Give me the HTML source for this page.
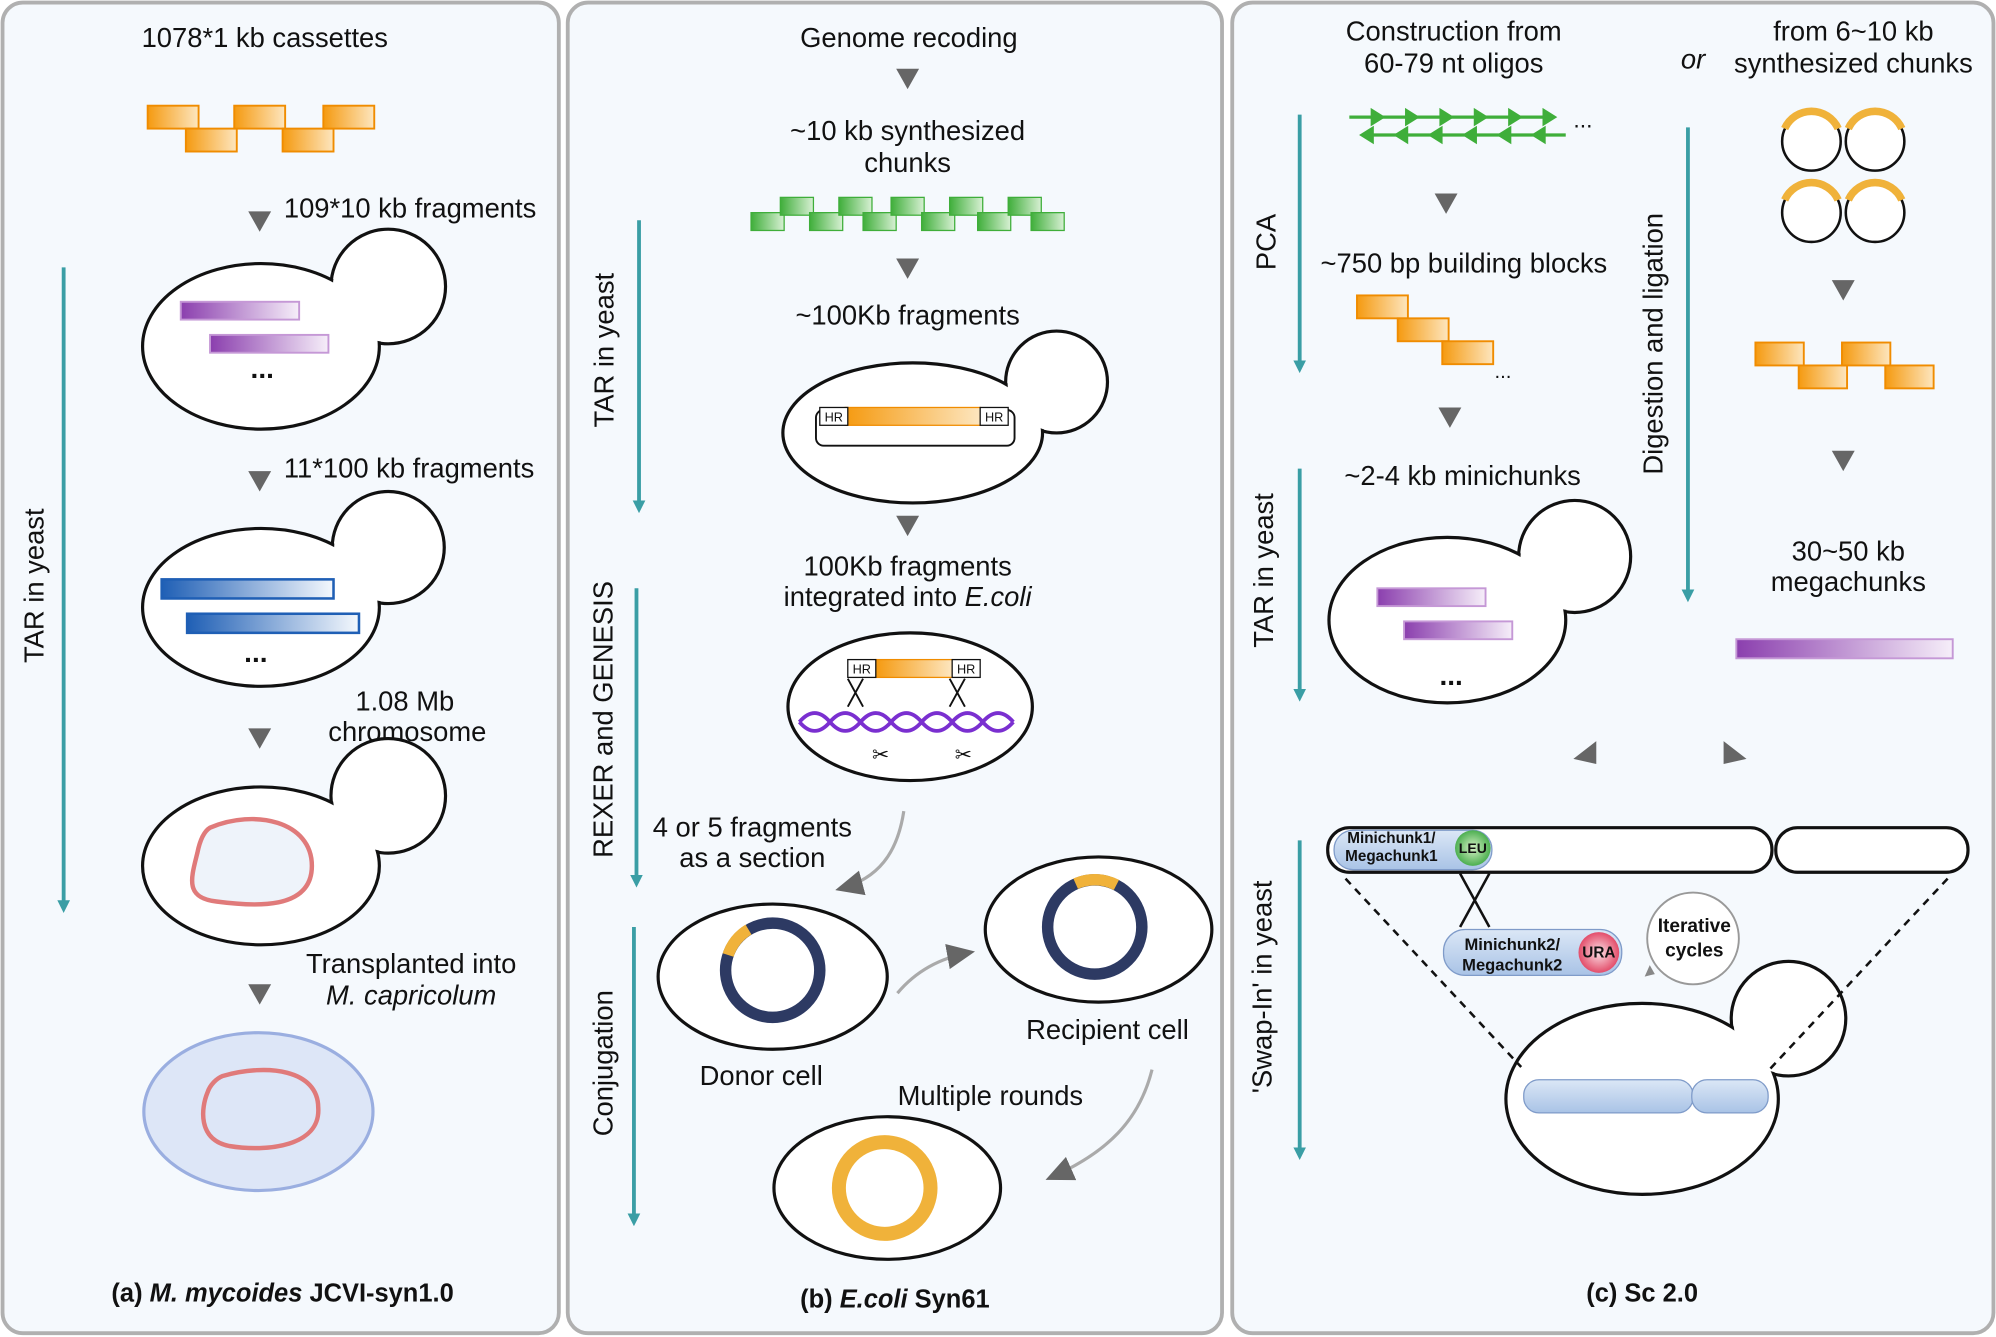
<!DOCTYPE html>
<html><head><meta charset="utf-8"><style>
html,body{margin:0;padding:0;background:#fff}
svg{display:block}
text{font-family:"Liberation Sans",Arial,sans-serif;fill:#111}
</style></head><body>
<svg width="1996" height="1337" viewBox="0 0 1568 1050" preserveAspectRatio="none" xmlns="http://www.w3.org/2000/svg">
<defs>
<linearGradient id="or" x1="0" x2="1"><stop offset="0" stop-color="#f59a10"/><stop offset="1" stop-color="#fde6bf"/></linearGradient>
<linearGradient id="pu" x1="0" x2="1"><stop offset="0" stop-color="#8b3fae"/><stop offset="1" stop-color="#f6eef9"/></linearGradient>
<linearGradient id="bl" x1="0" x2="1"><stop offset="0" stop-color="#1f5fb5"/><stop offset="1" stop-color="#f4f8fd"/></linearGradient>
<linearGradient id="gr" x1="0" x2="1"><stop offset="0" stop-color="#3fae3a"/><stop offset="1" stop-color="#d8f0d4"/></linearGradient>
<linearGradient id="cb" x1="0" y1="0" x2="0" y2="1"><stop offset="0" stop-color="#dbe7f6"/><stop offset="1" stop-color="#a9c3e6"/></linearGradient>
<radialGradient id="leu"><stop offset="0" stop-color="#d6f0c6"/><stop offset="1" stop-color="#4caf50"/></radialGradient>
<radialGradient id="ura"><stop offset="0" stop-color="#fbe0e6"/><stop offset="1" stop-color="#e34d6a"/></radialGradient>
<marker id="ta" markerWidth="10" markerHeight="10" refX="5" refY="5" orient="auto" markerUnits="userSpaceOnUse"><path d="M0,0 L10,5 L0,10 z" fill="#3a9ea5"/></marker>
<marker id="ga" markerWidth="22" markerHeight="20" refX="18" refY="10" orient="auto" markerUnits="userSpaceOnUse"><path d="M0,0 L22,10 L0,20 z" fill="#666"/></marker>
</defs>
<g stroke="#b0b0b0" stroke-width="3" fill="#f5f9fd">
<rect x="2" y="2" width="437" height="1045" rx="16"/>
<rect x="446" y="2" width="514" height="1045" rx="16"/>
<rect x="968" y="2" width="598" height="1045" rx="16"/>
</g>
<!-- panel a -->
<g font-size="21.5">
<text x="208" y="37" text-anchor="middle">1078*1 kb  cassettes</text>
<text x="223" y="171">109*10 kb fragments</text>
<text x="223" y="375">11*100 kb fragments</text>
<text x="318" y="558" text-anchor="middle">1.08 Mb</text>
<text x="320" y="582" text-anchor="middle">chromosome</text>
<text x="323" y="764" text-anchor="middle">Transplanted into</text>
<text x="323" y="789" text-anchor="middle" font-style="italic">M. capricolum</text>
<text x="34" y="460" text-anchor="middle" transform="rotate(-90 34 460)">TAR in yeast</text>
<text x="222" y="1022" text-anchor="middle" font-weight="bold" font-size="20">(a) <tspan font-style="italic">M. mycoides</tspan> JCVI-syn1.0</text>
</g>
<g fill="url(#or)" stroke="#f08c00" stroke-width="1.5">
<rect x="116" y="83" width="40" height="18"/><rect x="146" y="101" width="40" height="18"/><rect x="184" y="83" width="40" height="18"/><rect x="222" y="101" width="40" height="18"/><rect x="254" y="83" width="40" height="18"/>
</g>
<g fill="#666">
<path d="M195,166 h18 l-9,16z"/><path d="M195,370 h18 l-9,16z"/><path d="M195,572 h18 l-9,16z"/><path d="M195,773 h18 l-9,16z"/>
</g>
<line x1="50" y1="210" x2="50" y2="712" stroke="#3a9ea5" stroke-width="3" marker-end="url(#ta)"/>
<g stroke="#111" stroke-width="2.5" fill="#fff">
<circle cx="305" cy="225" r="45"/><ellipse cx="205" cy="272" rx="93" ry="65"/>
<circle cx="305" cy="430" r="44"/><ellipse cx="205" cy="477" rx="93" ry="62"/>
<circle cx="305" cy="625" r="45"/><ellipse cx="205" cy="680" rx="93" ry="62"/>
</g>
<g fill="#fff">
<circle cx="305" cy="225" r="43.5"/><circle cx="305" cy="430" r="42.5"/><circle cx="305" cy="625" r="43.5"/>
</g>
<ellipse cx="203" cy="873" rx="90" ry="62" fill="#dde6f7" stroke="#9aaee0" stroke-width="2.5"/>
<rect x="142" y="237" width="93" height="14" fill="url(#pu)" stroke="#c598d6" stroke-width="1.5"/>
<rect x="165" y="263" width="93" height="14" fill="url(#pu)" stroke="#c598d6" stroke-width="1.5"/>
<text x="206" y="297" text-anchor="middle" font-size="22" font-weight="bold">...</text>
<rect x="127" y="455" width="135" height="15" fill="url(#bl)" stroke="#1f5fb5" stroke-width="2"/>
<rect x="147" y="482" width="135" height="15" fill="url(#bl)" stroke="#1f5fb5" stroke-width="2"/>
<text x="201" y="520" text-anchor="middle" font-size="22" font-weight="bold">...</text>
<path d="M165,650 C200,635 245,645 245,680 C245,715 200,712 170,708 C145,705 150,690 155,670 C157,660 160,653 165,650z" fill="#eef3fa" stroke="#e07a7a" stroke-width="3.5"/>
<path d="M175,845 C210,835 250,840 250,870 C252,900 210,905 180,900 C155,895 158,870 163,858 C165,852 170,847 175,845z" fill="none" stroke="#e07a7a" stroke-width="3.5"/>
<!-- panel b -->
<g font-size="21.5">
<text x="714" y="37" text-anchor="middle">Genome recoding</text>
<text x="713" y="110" text-anchor="middle">~10 kb synthesized</text>
<text x="713" y="135" text-anchor="middle">chunks</text>
<text x="713" y="255" text-anchor="middle">~100Kb fragments</text>
<text x="713" y="452" text-anchor="middle">100Kb fragments</text>
<text x="713" y="476" text-anchor="middle">integrated into  <tspan font-style="italic">E.coli</tspan></text>
<text x="591" y="657" text-anchor="middle">4 or 5 fragments</text>
<text x="591" y="681" text-anchor="middle">as a section</text>
<text x="598" y="852" text-anchor="middle">Donor cell</text>
<text x="870" y="816" text-anchor="middle">Recipient cell</text>
<text x="778" y="868" text-anchor="middle">Multiple rounds</text>
<text x="482" y="275" text-anchor="middle" transform="rotate(-90 482 275)">TAR in yeast</text>
<text x="481" y="565" text-anchor="middle" transform="rotate(-90 481 565)">REXER and  GENESIS</text>
<text x="481" y="835" text-anchor="middle" transform="rotate(-90 481 835)">Conjugation</text>
<text x="703" y="1027" text-anchor="middle" font-weight="bold" font-size="20">(b) <tspan font-style="italic">E.coli</tspan> Syn61</text>
</g>
<g fill="#666">
<path d="M704,54 h18 l-9,16z"/><path d="M704,203 h18 l-9,16z"/><path d="M704,405 h18 l-9,16z"/>
</g>
<g fill="url(#gr)" stroke="#3fae3a" stroke-width="1">
<rect x="590" y="167" width="26" height="14"/><rect x="613" y="155" width="26" height="14"/><rect x="636" y="167" width="26" height="14"/><rect x="659" y="155" width="26" height="14"/><rect x="678" y="167" width="26" height="14"/><rect x="700" y="155" width="26" height="14"/><rect x="724" y="167" width="26" height="14"/><rect x="746" y="155" width="26" height="14"/><rect x="768" y="167" width="26" height="14"/><rect x="792" y="155" width="26" height="14"/><rect x="810" y="167" width="26" height="14"/>
</g>
<line x1="502" y1="173" x2="502" y2="398" stroke="#3a9ea5" stroke-width="3" marker-end="url(#ta)"/>
<line x1="500" y1="462" x2="500" y2="692" stroke="#3a9ea5" stroke-width="3" marker-end="url(#ta)"/>
<line x1="498" y1="728" x2="498" y2="958" stroke="#3a9ea5" stroke-width="3" marker-end="url(#ta)"/>
<g stroke="#111" stroke-width="2.5" fill="#fff">
<circle cx="830" cy="300" r="40"/><ellipse cx="717" cy="340" rx="102" ry="55"/>
<ellipse cx="715" cy="555" rx="96" ry="58"/>
<ellipse cx="607" cy="767" rx="90" ry="57"/>
<ellipse cx="863" cy="730" rx="89" ry="57"/>
<ellipse cx="697" cy="933" rx="89" ry="56"/>
</g>
<circle cx="830" cy="300" r="38.5" fill="#fff"/>
<rect x="641" y="322" width="156" height="28" rx="6" fill="#fff" stroke="#111" stroke-width="1.5"/>
<rect x="664" y="320" width="106" height="14" fill="url(#or)" stroke="#f08c00"/>
<rect x="644" y="320" width="22" height="14" fill="#fff" stroke="#111"/><text x="655" y="331" font-size="10" text-anchor="middle">HR</text>
<rect x="770" y="320" width="22" height="14" fill="#fff" stroke="#111"/><text x="781" y="331" font-size="10" text-anchor="middle">HR</text>
<rect x="688" y="518" width="60" height="14" fill="url(#or)" stroke="#f08c00"/>
<rect x="666" y="518" width="22" height="14" fill="#fff" stroke="#111"/><text x="677" y="529" font-size="10" text-anchor="middle">HR</text>
<rect x="748" y="518" width="22" height="14" fill="#fff" stroke="#111"/><text x="759" y="529" font-size="10" text-anchor="middle">HR</text>
<g stroke="#111" stroke-width="1.5"><path d="M666,533 L678,555 M678,533 L666,555 M746,533 L758,555 M758,533 L746,555"/></g>
<path d="M628,567 q12,-14 24,0 t24,0 t24,0 t24,0 t24,0 t24,0 t24,0" fill="none" stroke="#7a2fd0" stroke-width="3"/>
<path d="M628,567 q12,14 24,0 t24,0 t24,0 t24,0 t24,0 t24,0 t24,0" fill="none" stroke="#7a2fd0" stroke-width="3"/>
<text x="685" y="598" font-size="16">✂</text><text x="750" y="598" font-size="16">✂</text>
<circle cx="607" cy="762" r="37" fill="none" stroke="#2d3a63" stroke-width="9"/>
<path d="M572,750 A37,37 0 0 1 588,730" fill="none" stroke="#f0b23a" stroke-width="9"/>
<circle cx="860" cy="728" r="37" fill="none" stroke="#2d3a63" stroke-width="9"/>
<path d="M845,694 A37,37 0 0 1 877,695" fill="none" stroke="#f0b23a" stroke-width="9"/>
<circle cx="695" cy="933" r="36" fill="none" stroke="#f0b23a" stroke-width="11"/>
<g fill="none" stroke="#aaa" stroke-width="2.5">
<path d="M710,637 C705,670 690,690 660,698" marker-end="url(#ga)"/>
<path d="M705,780 C720,762 740,752 762,748" marker-end="url(#ga)"/>
<path d="M905,840 C895,880 870,905 825,925" marker-end="url(#ga)"/>
</g>
<!-- panel c -->
<g font-size="21.5">
<text x="1142" y="32" text-anchor="middle">Construction from</text>
<text x="1142" y="57" text-anchor="middle">60-79 nt oligos</text>
<text x="1330" y="54" text-anchor="middle" font-style="italic">or</text>
<text x="1456" y="32" text-anchor="middle">from 6~10 kb</text>
<text x="1456" y="57" text-anchor="middle">synthesized chunks</text>
<text x="1150" y="214" text-anchor="middle">~750 bp building blocks</text>
<text x="1149" y="381" text-anchor="middle">~2-4 kb minichunks</text>
<text x="1452" y="440" text-anchor="middle">30~50 kb</text>
<text x="1452" y="464" text-anchor="middle">megachunks</text>
<text x="1002" y="190" text-anchor="middle" transform="rotate(-90 1002 190)">PCA</text>
<text x="1306" y="270" text-anchor="middle" transform="rotate(-90 1306 270)">Digestion and ligation</text>
<text x="1000" y="448" text-anchor="middle" transform="rotate(-90 1000 448)">TAR in yeast</text>
<text x="999" y="775" text-anchor="middle" transform="rotate(-90 999 775)">'Swap-In' in yeast</text>
<text x="1290" y="1022" text-anchor="middle" font-weight="bold" font-size="20">(c) Sc 2.0</text>
</g>
<g stroke="#3fae3a" stroke-width="2.5" fill="#3fae3a">
<path d="M1060,92 h160 M1070,106 h160" fill="none"/>
<path d="M1078,87 l8,5 l-8,5z M1105,87 l8,5 l-8,5z M1132,87 l8,5 l-8,5z M1159,87 l8,5 l-8,5z M1186,87 l8,5 l-8,5z M1213,87 l8,5 l-8,5z"/>
<path d="M1078,101 l-8,5 l8,5z M1105,101 l-8,5 l8,5z M1132,101 l-8,5 l8,5z M1159,101 l-8,5 l8,5z M1186,101 l-8,5 l8,5z M1213,101 l-8,5 l8,5z"/>
</g>
<text x="1236" y="100" font-size="18">...</text>
<g fill="#666">
<path d="M1127,152 h18 l-9,16z"/><path d="M1130,320 h18 l-9,16z"/><path d="M1439,220 h18 l-9,16z"/><path d="M1439,354 h18 l-9,16z"/>
<path d="M1236,596 l18,-14 l0,18z"/><path d="M1354,582 l18,14 l-18,4z"/>
</g>
<line x1="1021" y1="90" x2="1021" y2="288" stroke="#3a9ea5" stroke-width="3" marker-end="url(#ta)"/>
<line x1="1326" y1="100" x2="1326" y2="468" stroke="#3a9ea5" stroke-width="3" marker-end="url(#ta)"/>
<line x1="1021" y1="368" x2="1021" y2="546" stroke="#3a9ea5" stroke-width="3" marker-end="url(#ta)"/>
<line x1="1021" y1="660" x2="1021" y2="906" stroke="#3a9ea5" stroke-width="3" marker-end="url(#ta)"/>
<g fill="url(#or)" stroke="#f08c00" stroke-width="1.5">
<rect x="1066" y="232" width="40" height="18"/><rect x="1098" y="250" width="40" height="18"/><rect x="1133" y="268" width="40" height="18"/>
<rect x="1379" y="269" width="38" height="18"/><rect x="1413" y="287" width="38" height="18"/><rect x="1447" y="269" width="38" height="18"/><rect x="1481" y="287" width="38" height="18"/>
</g>
<text x="1174" y="297" font-size="16">...</text>
<g stroke="#111" stroke-width="2" fill="#fff">
<circle cx="1423" cy="111" r="23"/><circle cx="1473" cy="111" r="23"/><circle cx="1423" cy="167" r="23"/><circle cx="1473" cy="167" r="23"/>
</g>
<g stroke="#f0b23a" stroke-width="6" fill="none">
<path d="M1402,101 A23,23 0 0 1 1444,101"/><path d="M1452,101 A23,23 0 0 1 1494,101"/><path d="M1402,157 A23,23 0 0 1 1444,157"/><path d="M1452,157 A23,23 0 0 1 1494,157"/>
</g>
<g stroke="#111" stroke-width="2.5" fill="#fff">
<circle cx="1237" cy="437" r="44"/><ellipse cx="1137" cy="487" rx="93" ry="65"/>
<circle cx="1405" cy="800" r="45"/><ellipse cx="1290" cy="863" rx="107" ry="75"/>
</g>
<g fill="#fff"><circle cx="1237" cy="437" r="42.5"/><circle cx="1405" cy="800" r="43.5"/></g>
<rect x="1082" y="462" width="85" height="14" fill="url(#pu)" stroke="#c598d6" stroke-width="1.5"/>
<rect x="1103" y="488" width="85" height="14" fill="url(#pu)" stroke="#c598d6" stroke-width="1.5"/>
<text x="1140" y="538" text-anchor="middle" font-size="22" font-weight="bold">...</text>
<rect x="1364" y="502" width="170" height="15" fill="url(#pu)" stroke="#c598d6" stroke-width="1.5"/>
<rect x="1043" y="650" width="349" height="35" rx="17" fill="#fff" stroke="#111" stroke-width="2.5"/>
<rect x="1395" y="650" width="151" height="35" rx="17" fill="#fff" stroke="#111" stroke-width="2.5"/>
<rect x="1048" y="652" width="124" height="31" rx="15" fill="url(#cb)" stroke="#7f9bc9"/>
<circle cx="1157" cy="666" r="14" fill="url(#leu)"/>
<text x="1093" y="662" text-anchor="middle" font-size="12" font-weight="bold">Minichunk1/</text>
<text x="1093" y="676" text-anchor="middle" font-size="12" font-weight="bold">Megachunk1</text>
<text x="1157" y="670" text-anchor="middle" font-size="11" font-weight="bold">LEU</text>
<rect x="1134" y="730" width="140" height="36" rx="17" fill="url(#cb)" stroke="#7f9bc9"/>
<circle cx="1256" cy="748" r="16" fill="url(#ura)"/>
<text x="1188" y="746" text-anchor="middle" font-size="13" font-weight="bold">Minichunk2/</text>
<text x="1188" y="762" text-anchor="middle" font-size="13" font-weight="bold">Megachunk2</text>
<text x="1256" y="752" text-anchor="middle" font-size="12" font-weight="bold">URA</text>
<path d="M1147,686 L1170,728 M1170,686 L1147,728" stroke="#111" stroke-width="2"/>
<circle cx="1330" cy="737" r="36" fill="#fff" stroke="#999" stroke-width="1.5"/>
<text x="1331" y="732" text-anchor="middle" font-size="15" font-weight="bold">Iterative</text>
<text x="1331" y="751" text-anchor="middle" font-size="15" font-weight="bold">cycles</text>
<path d="M1300,765 l-8,2 l4,-9z" fill="#888"/>
<g stroke="#111" stroke-width="2" stroke-dasharray="6,5"><line x1="1057" y1="690" x2="1195" y2="838"/><line x1="1530" y1="690" x2="1390" y2="840"/></g>
<rect x="1197" y="848" width="133" height="26" rx="12" fill="url(#cb)" stroke="#7f9bc9"/>
<rect x="1329" y="848" width="60" height="26" rx="12" fill="url(#cb)" stroke="#7f9bc9"/>
</svg>
</body></html>
